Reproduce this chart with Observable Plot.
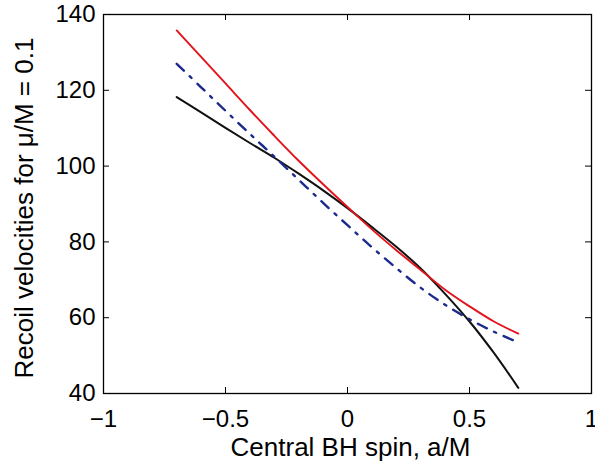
<!DOCTYPE html>
<html><head><meta charset="utf-8">
<script src="https://cdn.jsdelivr.net/npm/d3@7"></script>
<script src="https://cdn.jsdelivr.net/npm/@observablehq/plot@0.6"></script>
<style>body{margin:0;background:#fff;} svg{overflow:visible}</style>
</head><body><div id="chart"></div>
<script>
// Data
const xTicks = [-1, -0.5, 0, 0.5, 1];
const yTicks = [40, 60, 80, 100, 120, 140];
const spin = [-0.7, -0.6, -0.5, -0.4, -0.3, -0.2, -0.1, 0, 0.1, 0.2, 0.3, 0.4, 0.5, 0.6, 0.7];
const redCurve   = [135.8, 128.8, 121.8, 114.8, 108.0, 101.4, 95.2, 89.2, 83.3, 77.8, 72.6, 67.4, 63.0, 59.0, 55.8];
const blackCurve = [118.2, 114.2, 110.1, 106.1, 102.2, 98.0, 93.6, 88.9, 83.9, 78.7, 73.0, 66.3, 59.0, 50.7, 41.5];
const blueCurve  = [127.0, 120.8, 114.6, 108.5, 102.5, 96.4, 90.3, 84.4, 78.6, 73.1, 67.9, 63.4, 59.6, 56.3, 53.5];
const xLabel = "Central BH spin, a/M";
const yLabel = "Recoil velocities for \u03BC/M = 0.1";

const W = 595, H = 462, ML = 103, MR = 4, MT = 14, MB = 69;
const PW = W - ML - MR, PH = H - MT - MB, TL = 6;
const rows = ys => spin.map((s, i) => ({spin: s, v: ys[i]}));
const fmt = d3.format("");

const chart = Plot.plot({
  width: W, height: H,
  marginLeft: ML, marginRight: MR, marginTop: MT, marginBottom: MB,
  style: {fontFamily: "'Liberation Sans', Arial, sans-serif", background: "#fff", color: "#000"},
  x: {domain: [-1, 1]},
  y: {domain: [40, 140]},
  marks: [
    Plot.axisX(xTicks, {tickSize: 0, tickPadding: 16, fontSize: 24, label: null, tickFormat: fmt}),
    Plot.axisY(yTicks, {tickSize: 0, tickPadding: 8, fontSize: 24, label: null, tickFormat: fmt}),
    Plot.tickX(xTicks, {x: d => d, insetTop: PH - TL, stroke: "#000"}),
    Plot.tickX(xTicks, {x: d => d, insetBottom: PH - TL, stroke: "#000"}),
    Plot.tickY(yTicks, {y: d => d, insetRight: PW - TL, stroke: "#000"}),
    Plot.tickY(yTicks, {y: d => d, insetLeft: PW - TL, stroke: "#000"}),
    Plot.line(rows(blackCurve), {x: "spin", y: "v", stroke: "#111", strokeWidth: 2, curve: "catmull-rom"}),
    Plot.line(rows(blueCurve), {x: "spin", y: "v", stroke: "#1b2b8c", strokeWidth: 2.4, strokeDasharray: "10,8,2.5,8", curve: "catmull-rom"}),
    Plot.line(rows(redCurve), {x: "spin", y: "v", stroke: "#e3121b", strokeWidth: 1.9, curve: "catmull-rom"}),
    Plot.frame({stroke: "#000", strokeWidth: 1.3}),
    Plot.text([xLabel], {text: d => d, frameAnchor: "bottom", textAnchor: "middle", dy: 54, dx: 3, fontSize: 26, lineAnchor: "middle"}),
    Plot.text([yLabel], {text: d => d, frameAnchor: "left", textAnchor: "middle", rotate: -90, dx: -79, dy: 4, fontSize: 26, lineAnchor: "middle"})
  ]
});
document.getElementById("chart").appendChild(chart);
</script>
</body></html>
